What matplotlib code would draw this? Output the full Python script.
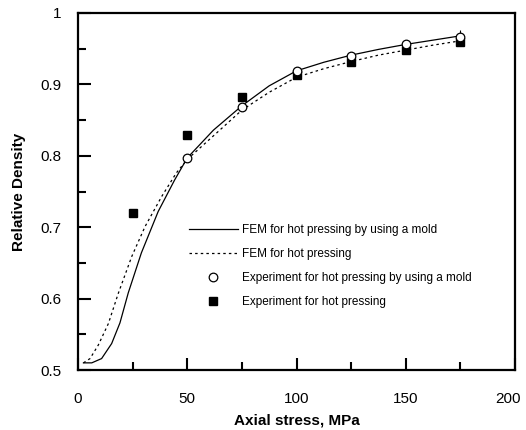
import matplotlib
matplotlib.use("Agg")
import matplotlib.pyplot as plt
from matplotlib.ticker import MultipleLocator
from matplotlib.transforms import ScaledTranslation

plt.rcParams['font.family'] = ['Liberation Sans', 'DejaVu Sans']

# FEM curves
fem_mold_x = [2.5, 6.3, 10.8, 15.4, 19.2, 23.0, 29.0, 36.7, 44.2, 50, 62, 75,
              87.5, 100, 112.5, 125, 137.5, 150, 162.5, 175]
fem_mold_y = [0.510, 0.510, 0.516, 0.537, 0.566, 0.608, 0.664, 0.722, 0.766,
              0.797, 0.836, 0.870, 0.898, 0.919, 0.931, 0.941, 0.949, 0.956,
              0.962, 0.968]

fem_hp_x = [2.5, 5.5, 9.3, 13.9, 18.4, 24.6, 30.7, 38.3, 45, 50, 62, 75,
            87.5, 100, 112.5, 125, 137.5, 150, 162.5, 175]
fem_hp_y = [0.510, 0.516, 0.535, 0.565, 0.607, 0.659, 0.701, 0.743, 0.776,
            0.795, 0.828, 0.864, 0.889, 0.910, 0.922, 0.932, 0.941, 0.948,
            0.955, 0.961]

# experiments
exp_mold_x = [50, 75, 100, 125, 150, 175]
exp_mold_y = [0.797, 0.868, 0.919, 0.940, 0.956, 0.967]

exp_hp_x = [25, 50, 75, 100, 125, 150, 175]
exp_hp_y = [0.720, 0.829, 0.883, 0.913, 0.932, 0.948, 0.959]

x_ticks = [0, 50, 100, 150, 200]
y_ticks = [0.5, 0.6, 0.7, 0.8, 0.9, 1.0]
y_ticklabels = ['0.5', '0.6', '0.7', '0.8', '0.9', '1']

labels = ['FEM for hot pressing by using a mold',
          'FEM for hot pressing',
          'Experiment for hot pressing by using a mold',
          'Experiment for hot pressing']

fig = plt.figure(figsize=(5.26, 4.30), dpi=100)
ax = fig.add_axes([78 / 526, 60 / 430, 437 / 526, 357 / 430])

ax.plot(fem_mold_x, fem_mold_y, color='black', lw=0.9, label=labels[0])
ax.plot(fem_hp_x, fem_hp_y, color='black', lw=0.9, ls=(0, (2, 2.5)), label=labels[1])
ax.plot(exp_hp_x, exp_hp_y, ls='none', marker='s', ms=5.5, mfc='black', mec='black',
        label=labels[3], zorder=3)
ax.plot(exp_mold_x, exp_mold_y, ls='none', marker='o', ms=6.2, mfc='white', mec='black',
        mew=0.9, label=labels[2], zorder=4)
ax.errorbar([exp_mold_x[-1]], [exp_mold_y[-1]], yerr=[[0], [0.009]], fmt='none',
            ecolor='black', elinewidth=0.8, capsize=0, zorder=2)

ax.set_xlim(0, 200)
ax.set_ylim(0.5, 1.0)
ax.set_xticks(x_ticks)
ax.xaxis.set_minor_locator(MultipleLocator(25))
ax.set_yticks(y_ticks)
ax.set_yticklabels(y_ticklabels)
ax.yaxis.set_minor_locator(MultipleLocator(0.05))
ax.tick_params(which='both', direction='in', top=False, right=False,
               width=1.5, labelsize=11)
ax.tick_params(axis='x', pad=16)
ax.tick_params(axis='y', pad=12)
ax.tick_params(which='major', length=9)
ax.tick_params(which='minor', length=6)
for s in ax.spines.values():
    s.set_linewidth(1.6)

ax.set_xlabel('Axial stress, MPa', fontsize=11, fontweight='bold', labelpad=5)
ax.set_ylabel('Relative Density', fontsize=11, fontweight='bold', labelpad=10)

h, l = ax.get_legend_handles_labels()
order = [0, 1, 3, 2]
ax.legend([h[i] for i in order], [l[i] for i in order], loc='upper left',
          bbox_to_anchor=(0.229, 0.438), frameon=False, fontsize=8.5,
          handlelength=4.2, handletextpad=0.35, labelspacing=1.0)

# pull the "200" label a little inside the figure
fig.canvas.draw()
lab = ax.xaxis.get_major_ticks()[len(x_ticks) - 1].label1
lab.set_transform(lab.get_transform() + ScaledTranslation(-0.07, 0, fig.dpi_scale_trans))

fig.savefig('out.png', dpi=100)
